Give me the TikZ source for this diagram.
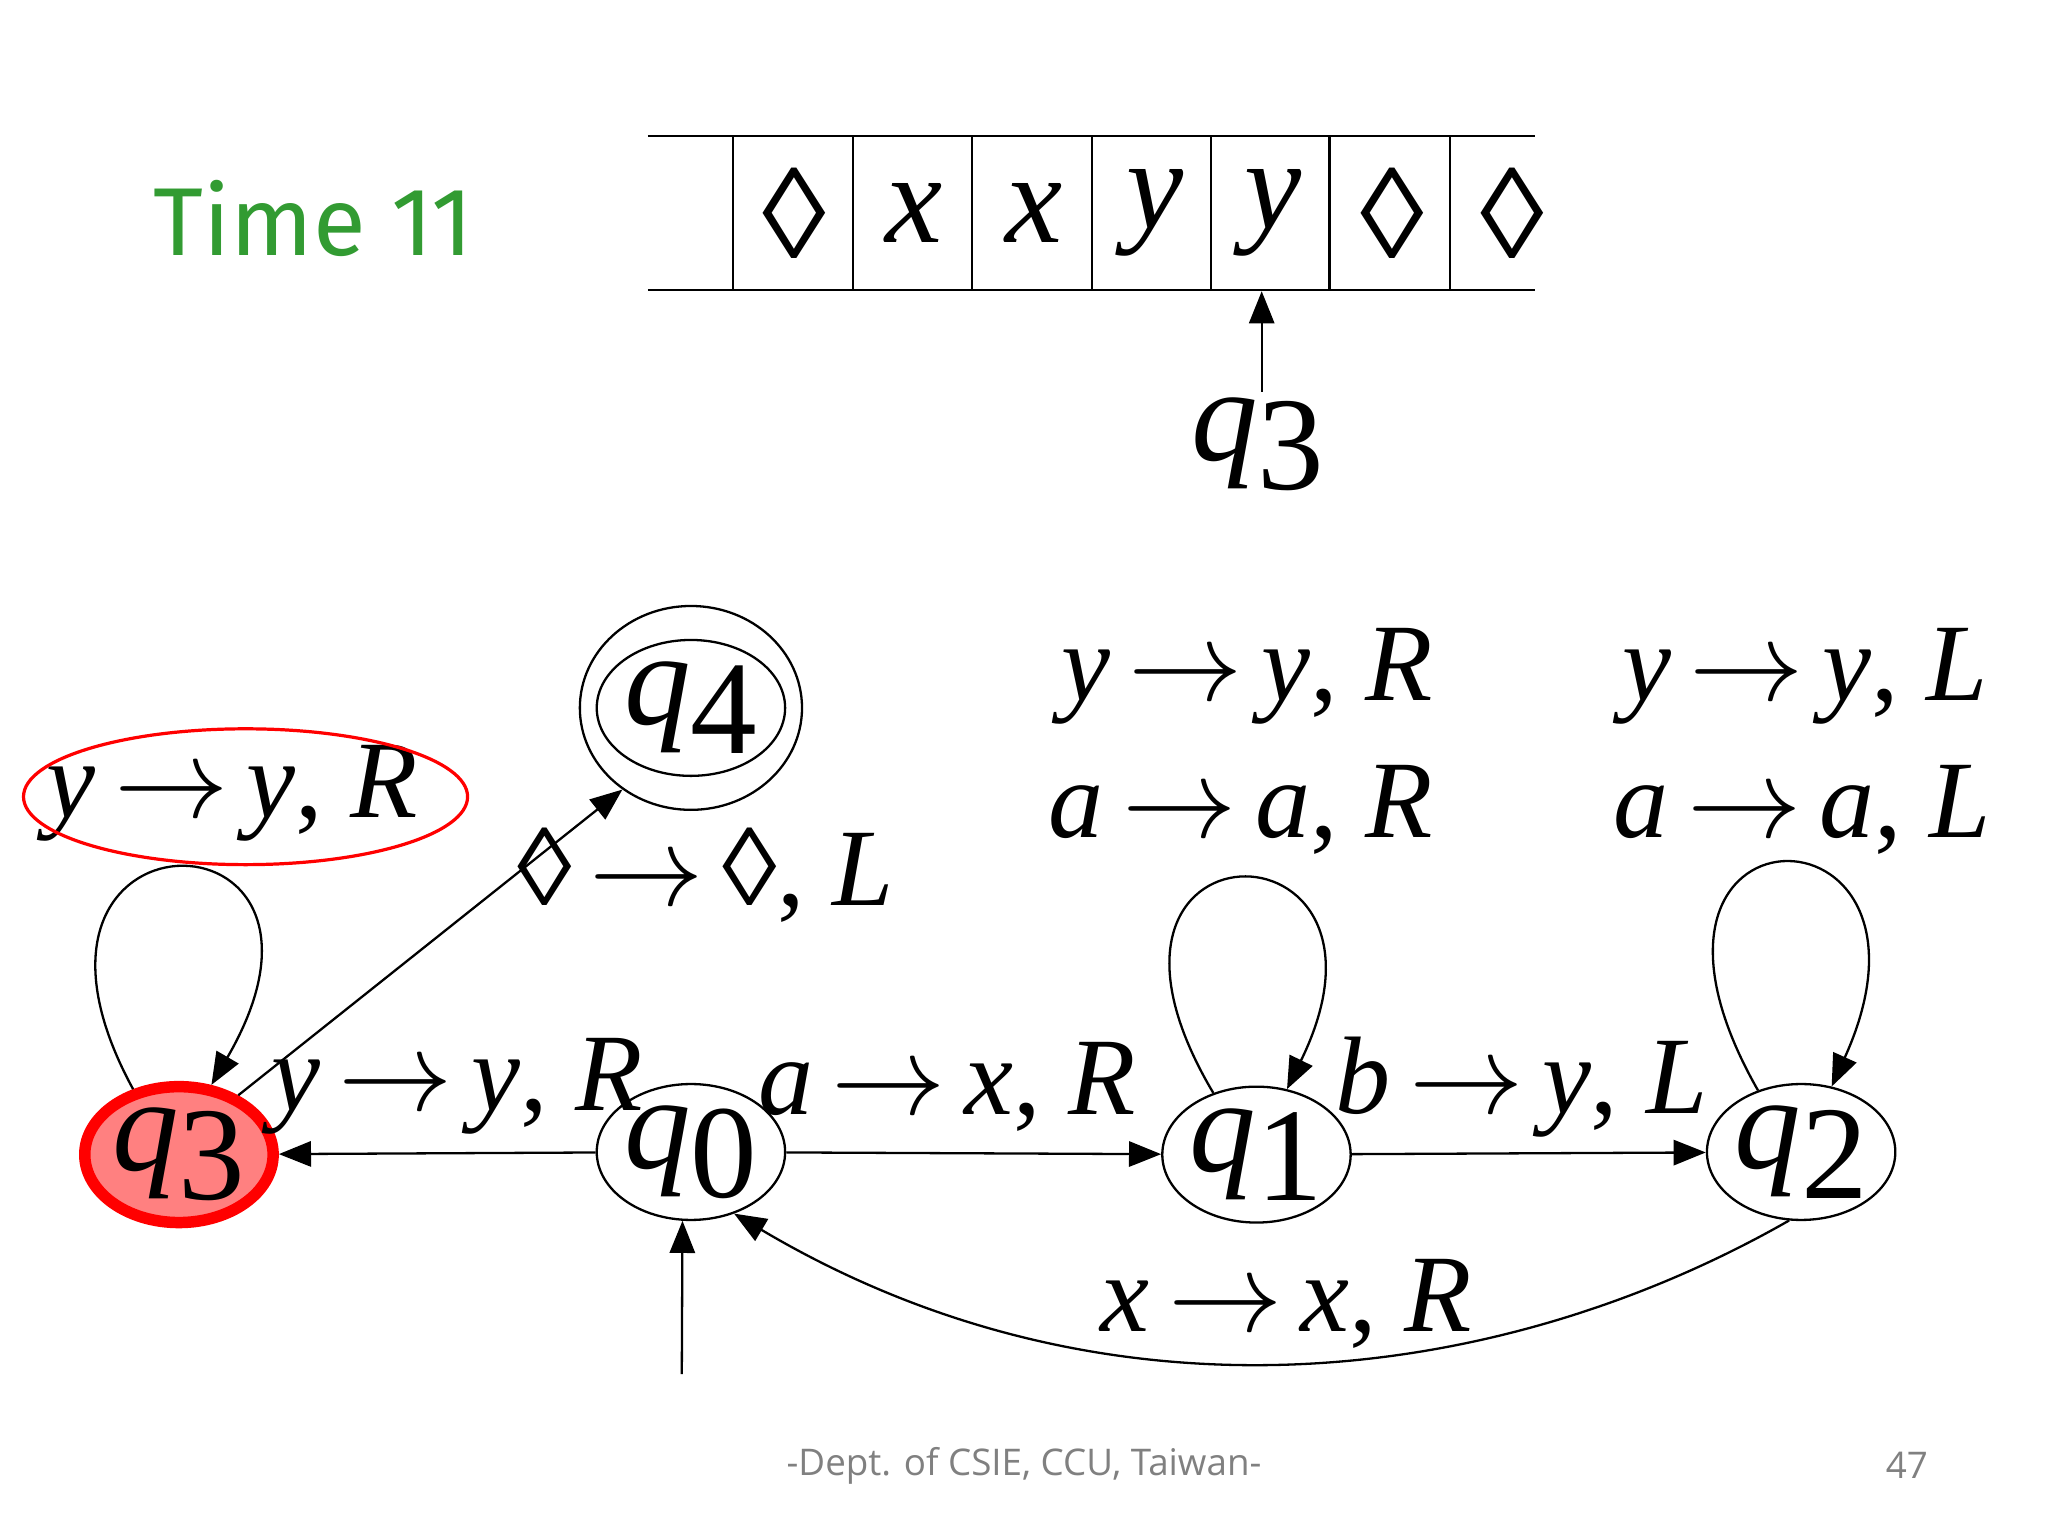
\documentclass[tikz,border=0pt]{standalone}
\usepackage{fontspec}
\setmainfont{Liberation Serif}
\usetikzlibrary{arrows.meta,shapes.geometric}
\newfontfamily\footfont{Open Sans}
\newfontfamily\timefont{Fira Sans}
\newcommand\I[1]{{\itshape #1}}
\newcommand\Ar{\,$\rightarrow$\,}
\newcommand\Lz{◊}
\newcommand\Qs[1]{\I{q}\raisebox{-0.22em}{#1}}
\begin{document}
\begin{tikzpicture}[x=0.01cm,y=-0.01cm,
  tip/.style={-{Triangle[length=7pt,width=5.5pt]}},
  st/.style={ellipse,draw,line width=0.5pt,minimum width=1.17cm,minimum height=1.04cm,inner sep=0pt,font=\fontsize{29}{32}\selectfont},
  lab/.style={font=\fontsize{24}{28}\selectfont,inner sep=0pt},
  cell/.style={font=\fontsize{28}{30}\selectfont,inner sep=0pt},
  line width=0.5pt]
\useasboundingbox (0,0) rectangle (1568,1176);
\fill[white] (0,0) rectangle (1568,1176);
% Title
\node[font=\timefont\fontsize{21}{24}\selectfont,text={rgb,255:red,50;green,155;blue,50}] (title) at (240,167) {Time 11};
% tape
\draw (496,104) -- (1175,104);
\draw (496,222) -- (1175,222);
\foreach \x in {561,653,744,836,927,1018,1110} \draw (\x,104) -- (\x,222);
\node[cell] (c1) at (608,163) {\Lz};
\node[cell] (c2) at (700,163) {\I{x}};
\node[cell] (c3) at (792,163) {\I{x}};
\node[cell] (c4) at (884,163) {\I{y}};
\node[cell] (c5) at (975,163) {\I{y}};
\node[cell] (c6) at (1066,163) {\Lz};
\node[cell] (c7) at (1158,163) {\Lz};
\coordinate (hd) at (966,223);
\node[font=\fontsize{29}{32}\selectfont] (hq) at (963,340) {\Qs{3}};
\draw[tip] (966,300) -- (hd);
% states
\node[st,fill={rgb,255:red,255;green,128;blue,128},draw=red,line width=2.5pt] (q3) at (137,884) {\Qs{3}};
\node[st] (q0) at (529,882) {\Qs{0}};
\node[st] (q1) at (962,884) {\Qs{1}};
\node[st] (q2) at (1379,882) {\Qs{2}};
\node[st,minimum width=1.7cm,minimum height=1.56cm] (q4o) at (529,542) {};
\node[st] (q4) at (529,542) {\Qs{4}};
% edges
\draw[tip] (q0) -- (q3);
\draw[tip] (q0) -- (q1);
\draw[tip] (q1) -- (q2);
\draw[tip] (q2.260) .. controls (1150,1060) and (850,1100) .. (q0.-55);
\draw[tip] (q3.45) -- (q4o.230);
\coordinate (st0) at (522,1052);
\draw[tip] (st0) -- (q0.263);
\node[lab] (l30) at (350,832) {\I{y}\Ar\I{y}, \I{R}};
\node[lab] (l01) at (725,832) {\I{a}\Ar\I{x}, \I{R}};
\node[lab] (l12) at (1165,832) {\I{b}\Ar\I{y}, \I{L}};
\node[lab] (l20) at (985,998) {\I{x}\Ar\I{x}, \I{R}};
\node[lab] (l34) at (540,670) {\Lz\Ar\Lz, \I{L}};
% loops
\draw[tip] (q3.125) .. controls (-20,610) and (290,610) .. (q3.65);
\draw[tip] (q1.125) .. controls (800,620) and (1090,620) .. (q1.65);
\draw[tip] (q2.125) .. controls (1215,605) and (1505,605) .. (q2.65);
\node[lab] (lq3) at (178,607) {\I{y}\Ar\I{y}, \I{R}};
\draw[red,line width=0.7pt] (188,610) ellipse [x radius=170,y radius=52];
\node[lab] (lq1a) at (955,518) {\I{y}\Ar\I{y}, \I{R}};
\node[lab] (lq1b) at (950,620) {\I{a}\Ar\I{a}, \I{R}};
\node[lab] (lq2a) at (1382,518) {\I{y}\Ar\I{y}, \I{L}};
\node[lab] (lq2b) at (1380,620) {\I{a}\Ar\I{a}, \I{L}};
% footer
\node[font=\footfont\fontsize{8}{10}\selectfont,text=gray] (ft) at (784,1122) {-Dept. of CSIE, CCU, Taiwan-};
\node[font=\footfont\fontsize{8}{10}\selectfont,text=gray] (pg) at (1460,1122) {47};
\end{tikzpicture}
\end{document}
